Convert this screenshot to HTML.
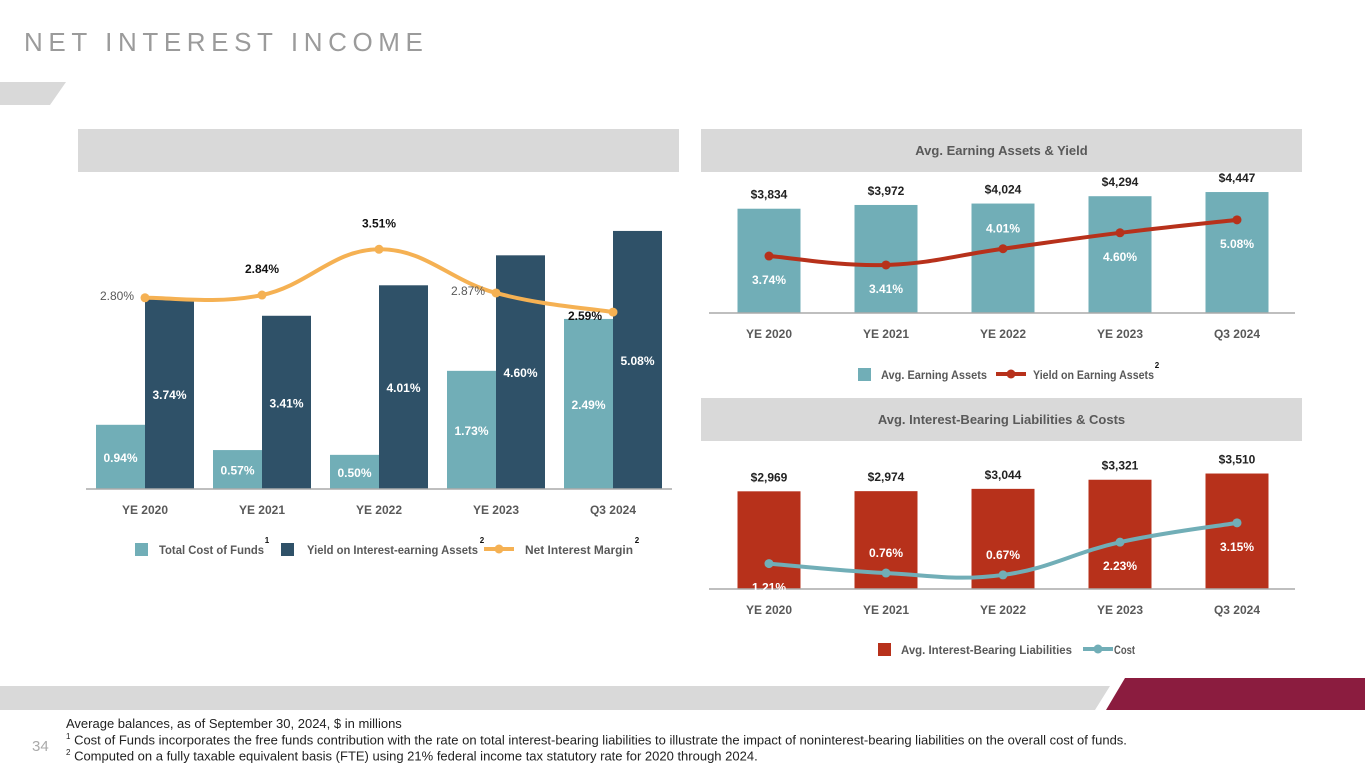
<!DOCTYPE html>
<html><head><meta charset="utf-8"><style>
body{margin:0;width:1365px;height:768px;overflow:hidden;background:#fff;font-family:"Liberation Sans",sans-serif;position:relative}
.abs{position:absolute}
.hdr{position:absolute;background:#d9d9d9;height:43px;text-align:center;line-height:43px;font-size:13px;font-weight:bold;color:#595959}
.fn{position:absolute;left:66px;font-size:13px;color:#222;font-family:"Liberation Sans Narrow","Liberation Sans",sans-serif;white-space:nowrap}
</style></head><body>
<div class="abs" style="left:24px;top:27px;font-size:26px;letter-spacing:5.6px;color:#9b9b9b;white-space:nowrap">NET INTEREST INCOME</div>
<svg class="abs" style="left:0;top:0" width="1365" height="768">
<polygon points="0,82 66,82 50,105 0,105" fill="#d9d9d9"/>
<polygon points="0,686 1110,686 1095,710 0,710" fill="#d9d9d9"/>
<polygon points="1125,678 1365,678 1365,710 1106,710" fill="#8b1c3f"/>
</svg>
<div class="hdr" style="left:78px;top:129px;width:601px"></div>
<div class="hdr" style="left:701px;top:129px;width:601px">Avg. Earning Assets &amp; Yield</div>
<div class="hdr" style="left:701px;top:398px;width:601px">Avg. Interest-Bearing Liabilities &amp; Costs</div>
<svg id="ch" class="abs" style="left:0;top:0" width="1365" height="768"></svg>
<div class="abs" style="left:32px;top:738px;font-size:15px;color:#aaa">34</div>
<div class="fn" style="top:716px">Average balances, as of September 30, 2024, $ in millions</div>
<div class="fn" style="top:732px"><sup style="font-size:8px">1</sup> Cost of Funds incorporates the free funds contribution with the rate on total interest-bearing liabilities to illustrate the impact of noninterest-bearing liabilities on the overall cost of funds.</div>
<div class="fn" style="top:748px"><sup style="font-size:8px">2</sup> Computed on a fully taxable equivalent basis (FTE) using 21% federal income tax statutory rate for 2020 through 2024.</div>
<script>
const categories=["YE 2020","YE 2021","YE 2022","YE 2023","Q3 2024"];
const costOfFunds=[0.94,0.57,0.50,1.73,2.49];
const yieldIEA=[3.74,3.41,4.01,4.60,5.08];
const nim=[2.80,2.84,3.51,2.87,2.59];
const nimLabelSide=["left","above","above","left","left"];
const earningAssets=[3834,3972,4024,4294,4447];
const yieldEA=[3.74,3.41,4.01,4.60,5.08];
const yieldLabelSide=["below","below","above","below","below"];
const liabilities=[2969,2974,3044,3321,3510];
const costIBL=[1.21,0.76,0.67,2.23,3.15];
const costLabelSide=["below","above","above","below","below"];

const svg=document.getElementById('ch');const NS='http://www.w3.org/2000/svg';
function el(t,a,p){const e=document.createElementNS(NS,t);for(const k in a)e.setAttribute(k,a[k]);(p||svg).appendChild(e);return e;}
function txt(x,y,s,o){const e=el('text',Object.assign({x:x,y:y,'text-anchor':'middle','font-size':12,'font-weight':'bold',fill:'#fff','font-family':'Liberation Sans, sans-serif'},o||{}));e.textContent=s;return e;}
function smooth(pts){let d='M'+pts[0][0]+','+pts[0][1];for(let i=0;i<pts.length-1;i++){const p0=pts[i-1]||pts[i],p1=pts[i],p2=pts[i+1],p3=pts[i+2]||p2;const t=0.2;d+=' C'+(p1[0]+(p2[0]-p0[0])*t)+','+(p1[1]+(p2[1]-p0[1])*t)+' '+(p2[0]-(p3[0]-p1[0])*t)+','+(p2[1]-(p3[1]-p1[1])*t)+' '+p2[0]+','+p2[1];}return d;}
function fmt(v){return '$'+v.toLocaleString('en-US');}

// LEFT CHART
const L={x0:86,x1:672,base:489,step:117,first:145};
const lx=i=>L.first+i*L.step;
const yCost=v=>L.base-v*68.3;
const yYield=v=>L.base-v*50.8;
categories.forEach((c,i)=>{
  const x=lx(i);
  let r=el('rect',{x:x-49,y:yCost(costOfFunds[i]),width:49,height:L.base-yCost(costOfFunds[i]),fill:'#71aeb7'});
  
  r=el('rect',{x:x,y:yYield(yieldIEA[i]),width:49,height:L.base-yYield(yieldIEA[i]),fill:'#2f5168'});
  
  txt(x-24.5,(yCost(costOfFunds[i])+L.base)/2+5,costOfFunds[i].toFixed(2)+'%');
  txt(x+24.5,(yYield(yieldIEA[i])+L.base)/2+5,yieldIEA[i].toFixed(2)+'%');
  const t=txt(x,514,c,{fill:'#595959'});
});
el('line',{x1:L.x0,x2:L.x1,y1:L.base,y2:L.base,stroke:'#aaa','stroke-width':1.5});
const nimPts=nim.map((v,i)=>[lx(i),yCost(v)]);
let p=el('path',{d:smooth(nimPts),fill:'none',stroke:'#f5b153','stroke-width':4});

nimPts.forEach((q,i)=>{el('circle',{cx:q[0],cy:q[1],r:4.5,fill:'#f5b153'});
  const last=i===nim.length-1;
  if(nimLabelSide[i]==='above')txt(q[0],q[1]-22,nim[i].toFixed(2)+'%',{fill:'#111'});
  else txt(q[0]-28,q[1]+(last?8:2),nim[i].toFixed(2)+'%',{fill:last?'#111':'#595959','font-weight':last?'bold':'normal'});
});
// legends
function legRect(x,y,col,name){const r=el('rect',{x:x,y:y,width:13,height:13,fill:col});}
function legLine(x,y,col,name){const g=el('g',{});el('line',{x1:x,x2:x+30,y1:y,y2:y,stroke:col,'stroke-width':4},g);el('circle',{cx:x+15,cy:y,r:4.5,fill:col},g);}
function legText(x1,x2,y,s){txt(x1,y,s,{fill:'#595959','text-anchor':'start',textLength:x2-x1,lengthAdjust:'spacingAndGlyphs'});}
legRect(135,543,'#71aeb7','legend-total-cost-of-funds');legText(159,264,554,'Total Cost of Funds');txt(267,543,'1',{fill:'#111','font-size':8});
legRect(281,543,'#2f5168','legend-yield-iea');legText(307,478,554,'Yield on Interest-earning Assets');txt(482,543,'2',{fill:'#111','font-size':8});
legLine(484,549,'#f5b153','legend-nim');legText(525,633,554,'Net Interest Margin');txt(637,543,'2',{fill:'#111','font-size':8});

const rx=i=>769+i*117;
function rightChart(base,bars,barCol,barScale,line,lineCol,lineY,sides,prefix){
  bars.forEach((v,i)=>{const h=v*barScale;
    const r=el('rect',{x:rx(i)-31.5,y:base-h,width:63,height:h,fill:barCol});
    
    txt(rx(i),base-h-10,fmt(v),{fill:'#222'});
    txt(rx(i),base+25,categories[i],{fill:'#595959'});
  });
  el('line',{x1:709,x2:1295,y1:base,y2:base,stroke:'#aaa','stroke-width':1.5});
  const pts=line.map((v,i)=>[rx(i),lineY(v)]);
  const pa=el('path',{d:smooth(pts),fill:'none',stroke:lineCol,'stroke-width':4});
  
  pts.forEach((q,i)=>{el('circle',{cx:q[0],cy:q[1],r:4.5,fill:lineCol});
    txt(q[0],sides[i]==='above'?q[1]-16:q[1]+28,line[i].toFixed(2)+'%');});
}
rightChart(313,earningAssets,'#71aeb7',0.0272,yieldEA,'#b7311b',v=>313-(v-1.63)*27,yieldLabelSide,'earning-assets');
legRect(858,368,'#71aeb7','legend-avg-earning-assets');legText(881,987,379,'Avg. Earning Assets');
legLine(996,374,'#b7311b','legend-yield-earning-assets');legText(1033,1154,379,'Yield on Earning Assets');txt(1157,368,'2',{fill:'#111','font-size':8});
rightChart(589,liabilities,'#b7311b',0.0329,costIBL,'#71aeb7',v=>589-v*21,costLabelSide,'liabilities');
legRect(878,643,'#b7311b','legend-avg-ib-liabilities');legText(901,1072,654,'Avg. Interest-Bearing Liabilities');
legLine(1083,649,'#71aeb7','legend-cost');legText(1114,1135,654,'Cost');
</script>
</body></html>
